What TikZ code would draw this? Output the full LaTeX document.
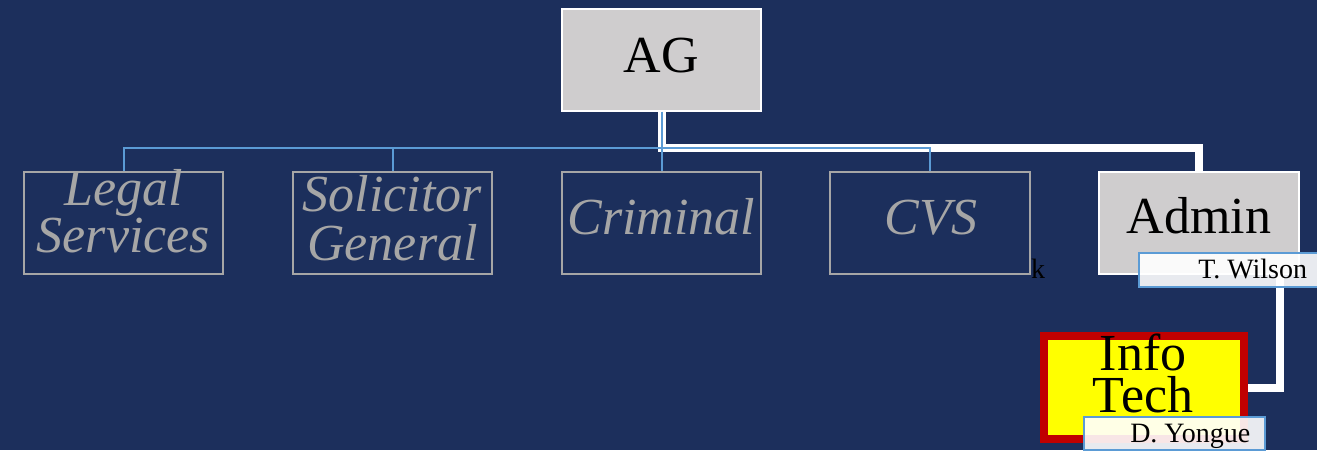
\documentclass[tikz,border=0pt]{standalone}
\usepackage{fontspec}
\setmainfont{Liberation Serif}
\definecolor{navy}{HTML}{1C2F5C}
\definecolor{boxgray}{HTML}{CFCDCE}
\definecolor{lineblue}{HTML}{5B9BD5}
\definecolor{txtgray}{HTML}{A6A6A6}
\definecolor{itred}{HTML}{C00000}
\definecolor{ityellow}{HTML}{FFFF00}
\begin{document}
\begin{tikzpicture}[x=0.75pt,y=-0.75pt,
  unitbox/.style={draw=txtgray, line width=1.5pt, minimum width=149.5pt, minimum height=76.5pt, inner sep=0pt},
  graybox/.style={unitbox, draw=white, fill=boxgray},
  namebox/.style={draw=lineblue, line width=1.5pt, fill=white, fill opacity=0.9, inner sep=0pt, minimum height=25pt},
  bigtext/.style={font=\fontsize{39}{39}\selectfont, inner sep=0pt, anchor=base},
  ittext/.style={bigtext, font=\fontsize{39}{39}\selectfont\itshape, text=txtgray},
  nametext/.style={font=\fontsize{21}{21}\selectfont, inner sep=0pt, anchor=base west},
  blueline/.style={draw=lineblue, line width=1.5pt},
  whiteline/.style={draw=white, line width=6pt}
]
\fill[navy] (0,0) rectangle (1317,450);
\useasboundingbox (0,0) rectangle (1317,450);

% boxes
\node[graybox] (ag) at (661.5,59.5) {};
\node[unitbox] (legal) at (123.5,223) {};
\node[unitbox] (sol) at (392.5,223) {};
\node[unitbox] (crim) at (661.5,223) {};
\node[unitbox] (cvs) at (930,223) {};
\node[graybox] (admin) at (1199,223) {};

% connectors
\coordinate (bus) at (661.5,147.5);
\coordinate (adm2) at (1279.5,275);
\draw[whiteline] (ag.south) -- (bus) -| (admin.north);
\draw[whiteline] (adm2) |- (1244,387.5) coordinate (infoend);
\draw[blueline] (ag.south) -- (bus);
\draw[blueline] (legal.north) |- (bus);
\draw[blueline] (sol.north) |- (bus);
\draw[blueline] (crim.north) -- (bus);
\draw[blueline] (cvs.north) |- (bus);

\node[draw=itred, fill=ityellow, line width=6pt, minimum width=150pt, minimum height=77pt, inner sep=0pt] (info) at (1144,387.5) {};

% texts
\node[bigtext] (agt) at (661.5,72) {AG};
\node[ittext] (legal1) at (123.5,205) {Legal};
\node[ittext] (legal2) at (123.5,252) {Services};
\node[ittext] (sol1) at (392.5,211) {Solicitor};
\node[ittext] (sol2) at (392.5,260) {General};
\node[ittext] (crimt) at (661.5,234) {Criminal};
\node[ittext] (cvst) at (931,234) {CVS};
\node[bigtext] (admint) at (1199,233) {Admin};
\node[bigtext] (info1) at (1143,370) {Info};
\node[bigtext] (info2) at (1143,412) {Tech};
\node[font=\fontsize{21}{21}\selectfont, inner sep=0pt, anchor=base] (k) at (1038,278) {k};

% name labels
\node[namebox, minimum width=138pt] (wilson) at (1231,270) {};
\node[nametext] (wilsont) at (1198,278) {T. Wilson};
\node[namebox, minimum width=136pt] (yongue) at (1174.5,433.5) {};
\node[nametext] (yonguet) at (1130,442) {D. Yongue};
\end{tikzpicture}
\end{document}
